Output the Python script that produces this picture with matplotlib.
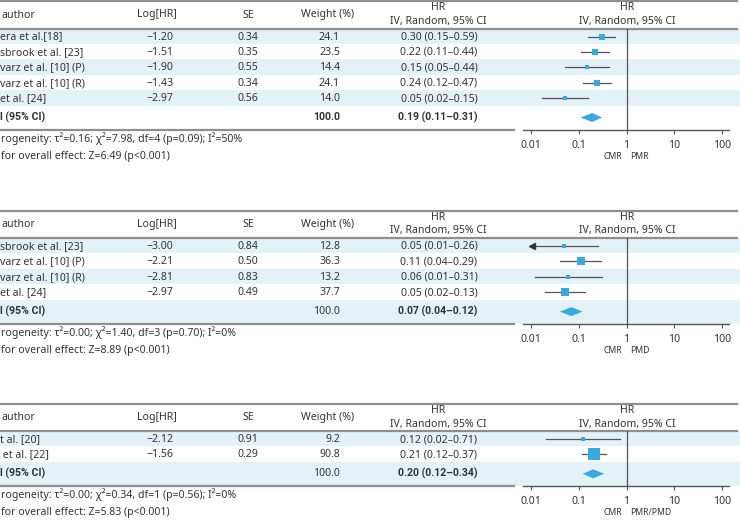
import numpy as np
import matplotlib
matplotlib.use("Agg")
import matplotlib.pyplot as plt
from matplotlib.patches import Polygon
from matplotlib.ticker import NullLocator

plt.rcParams['font.family'] = ['Noto Sans', 'DejaVu Sans']
BOLD_FAMILY = ['Roboto', 'Noto Sans', 'DejaVu Sans']

# ---------------- data ----------------
p1_names = ["era et al.[18]", "sbrook et al. [23]", "varz et al. [10] (P)", "varz et al. [10] (R)", "et al. [24]"]
p1_loghr = [-1.20, -1.51, -1.90, -1.43, -2.97]
p1_se = [0.34, 0.35, 0.55, 0.34, 0.56]
p1_weight = [24.1, 23.5, 14.4, 24.1, 14.0]
p1_weight_total = 100.0
p1_hr = [0.30, 0.22, 0.15, 0.24, 0.05]
p1_lo = [0.15, 0.11, 0.05, 0.12, 0.02]
p1_hi = [0.59, 0.44, 0.44, 0.47, 0.15]
p1_total = [0.19, 0.11, 0.31]
p1_het = "rogeneity: τ²=0.16; χ²=7.98, df=4 (p=0.09); I²=50%"
p1_z = "for overall effect: Z=6.49 (p<0.001)"
p1_right = "PMR"

p2_names = ["sbrook et al. [23]", "varz et al. [10] (P)", "varz et al. [10] (R)", "et al. [24]"]
p2_loghr = [-3.00, -2.21, -2.81, -2.97]
p2_se = [0.84, 0.50, 0.83, 0.49]
p2_weight = [12.8, 36.3, 13.2, 37.7]
p2_weight_total = 100.0
p2_hr = [0.05, 0.11, 0.06, 0.05]
p2_lo = [0.01, 0.04, 0.01, 0.02]
p2_hi = [0.26, 0.29, 0.31, 0.13]
p2_total = [0.07, 0.04, 0.12]
p2_het = "rogeneity: τ²=0.00; χ²=1.40, df=3 (p=0.70); I²=0%"
p2_z = "for overall effect: Z=8.89 (p<0.001)"
p2_right = "PMD"

p3_names = ["t al. [20]", " et al. [22]"]
p3_loghr = [-2.12, -1.56]
p3_se = [0.91, 0.29]
p3_weight = [9.2, 90.8]
p3_weight_total = 100.0
p3_hr = [0.12, 0.21]
p3_lo = [0.02, 0.12]
p3_hi = [0.71, 0.37]
p3_total = [0.20, 0.12, 0.34]
p3_het = "rogeneity: τ²=0.00; χ²=0.34, df=1 (p=0.56); I²=0%"
p3_z = "for overall effect: Z=5.83 (p<0.001)"
p3_right = "PMR/PMD"

axis_ticks = [0.01, 0.1, 1, 10, 100]
axis_ticklabels = ["0.01", "0.1", "1", "10", "100"]

# ---------------- style ----------------
W, Hfig = 740, 524
SHADE = '#e3f1f9'
BLUE = '#38a9dd'
LINE = '#555555'
RULE = '#8e8e8e'
TXT = '#333333'
FS = 7.6

fig = plt.figure(figsize=(7.4, 5.24), dpi=100)
bg = fig.add_axes([0, 0, 1, 1])
bg.set_xlim(0, W)
bg.set_ylim(Hfig, 0)
bg.axis('off')

ROW = 15.4
X0, X1 = 523, 729
LMIN, LMAX = 10 ** -2.168, 10 ** 2.147


def fmt(v):
    return f"{v:.2f}".replace('-', '−')


def txt(x, y, s, ha='left', bold=False, size=FS):
    if bold:
        bg.text(x, y, s, fontsize=size, color=TXT, va='center', ha=ha,
                fontweight='bold', family=BOLD_FAMILY)
    else:
        bg.text(x, y, s, fontsize=size, color=TXT, va='center', ha=ha)


def panel(H, names, loghr, se, weight, wtotal, hr, lo, hi, total, het, z, right, wbold):
    n = len(names)
    B = H + ROW * n + 24.5
    # shading
    for i in range(n + 1):
        if i % 2 == 0:
            y0 = H + ROW * i
            y1 = H + ROW * (i + 1) if i < n else B
            bg.fill_between([0, W], y0, y1, color=SHADE, lw=0, zorder=0)
    # rules
    bg.plot([0, 737], [H - 27.5, H - 27.5], color=RULE, lw=1.6, zorder=2)
    bg.plot([0, 737], [H, H], color=RULE, lw=1.6, zorder=2)
    bg.plot([0, 514], [B, B], color=RULE, lw=1.6, zorder=2)
    # header
    hy = H - 13.5
    txt(1, hy, "author")
    txt(157, hy, "Log[HR]", ha='center')
    txt(248, hy, "SE", ha='center')
    txt(328, hy, "Weight (%)", ha='center')
    for xc in (438, 627):
        txt(xc, H - 20.5, "HR", ha='center')
        txt(xc, H - 7, "IV, Random, 95% CI", ha='center')
    # rows
    for i in range(n):
        y = H + 8.5 + ROW * i
        txt(0.5, y, names[i])
        txt(146, y, fmt(loghr[i]))
        txt(248, y, fmt(se[i]), ha='center')
        txt(340, y, f"{weight[i]:.1f}", ha='right')
        txt(439, y, f"{hr[i]:.2f} ({lo[i]:.2f}–{hi[i]:.2f})", ha='center')
    ty = H + ROW * n + 12
    txt(0.5, ty, "l (95% CI)", bold=True)
    txt(340, ty, f"{wtotal:.1f}", ha='right', bold=wbold)
    txt(438, ty, f"{total[0]:.2f} ({total[1]:.2f}–{total[2]:.2f})", ha='center', bold=True)
    txt(1, B + 8.5, het)
    txt(1, B + 26.5, z)
    txt(622, B + 26.5, "CMR", ha='right', size=6.2)
    txt(630, B + 26.5, right, size=6.2)

    # forest axes
    ax = fig.add_axes([X0 / W, 1 - B / Hfig, (X1 - X0) / W, (B - H) / Hfig])
    ax.set_xscale('log')
    ax.set_xlim(LMIN, LMAX)
    ax.set_ylim(B, H)
    ax.patch.set_alpha(0)
    for s in ('left', 'right', 'top'):
        ax.spines[s].set_visible(False)
    ax.spines['bottom'].set_color(LINE)
    ax.spines['bottom'].set_linewidth(1.0)
    ax.set_yticks([])
    ax.set_xticks(axis_ticks)
    ax.set_xticklabels(axis_ticklabels)
    ax.xaxis.set_minor_locator(NullLocator())
    ax.tick_params(axis='x', length=3, width=0.8, color=LINE, labelsize=FS, labelcolor=TXT, pad=4)
    ax.axvline(1, color=LINE, lw=0.9, zorder=1)
    for i in range(n):
        y = H + 8 + ROW * i
        est = np.exp(loghr[i])
        l = np.exp(loghr[i] - 1.96 * se[i])
        h = np.exp(loghr[i] + 1.96 * se[i])
        if l < 0.01:
            ax.plot([0.0105, h], [y, y], color=LINE, lw=0.9, zorder=2)
            ax.plot([0.0105], [y], marker='<', color='#333333', markersize=4.5, zorder=3)
        else:
            ax.plot([l, h], [y, y], color=LINE, lw=0.9, zorder=2)
        side_px = max(2.0, 1.28 * np.sqrt(weight[i]))
        ax.plot([est], [y], marker='s', color=BLUE, markersize=side_px * 0.72, lw=0,
                markeredgewidth=0, zorder=4)
    ax.add_patch(Polygon([(total[1], ty), (total[0], ty - 4.5), (total[2], ty), (total[0], ty + 4.5)],
                         closed=True, facecolor=BLUE, edgecolor='none', zorder=4))
    return ax


panel(28.5, p1_names, p1_loghr, p1_se, p1_weight, p1_weight_total, p1_hr, p1_lo, p1_hi, p1_total,
      p1_het, p1_z, p1_right, True)
panel(238, p2_names, p2_loghr, p2_se, p2_weight, p2_weight_total, p2_hr, p2_lo, p2_hi, p2_total,
      p2_het, p2_z, p2_right, False)
panel(431, p3_names, p3_loghr, p3_se, p3_weight, p3_weight_total, p3_hr, p3_lo, p3_hi, p3_total,
      p3_het, p3_z, p3_right, False)

fig.savefig("out.png", dpi=100)
